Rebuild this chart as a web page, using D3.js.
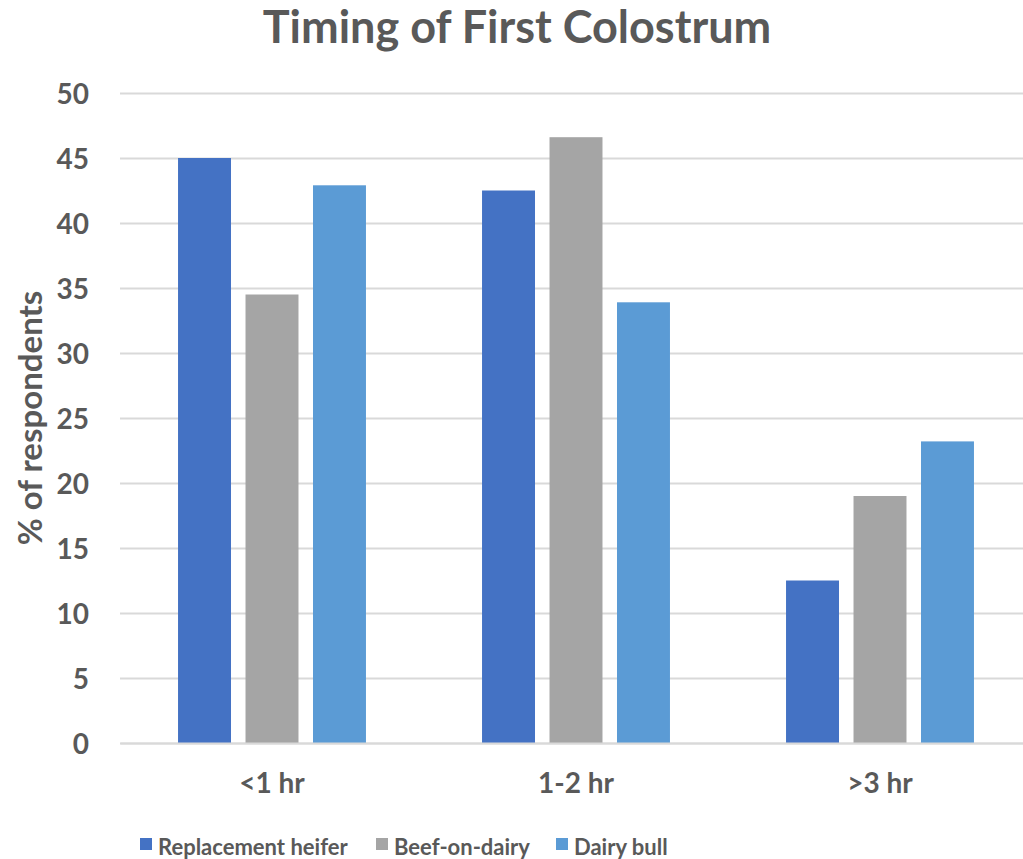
<!DOCTYPE html>
<html>
<head>
<meta charset="utf-8">
<script src="https://cdn.jsdelivr.net/npm/d3@7"></script>
<style>
  body { margin: 0; background: #fff; }
  text { font-family: Lato, "Open Sans", sans-serif; font-weight: bold; fill: #595959; }
</style>
</head>
<body>
<div id="chart"></div>
<script>
// chart data
var categories = ["<1 hr", "1-2 hr", ">3 hr"];
var seriesNames = ["Replacement heifer", "Beef-on-dairy", "Dairy bull"];
var heiferValues = [45.0, 42.5, 12.5];
var beefValues = [34.5, 46.6, 19.0];
var bullValues = [42.9, 33.9, 23.2];
var yTicks = [0, 5, 10, 15, 20, 25, 30, 35, 40, 45, 50];
var colors = ["#4472C4", "#A5A5A5", "#5B9BD5"];

var allValues = [heiferValues, beefValues, bullValues];

// set the dimensions and margins of the graph
var margin = {top: 93, right: -9, bottom: 116, left: 120},
    width = 1023 - margin.left - margin.right,
    height = 859 - margin.top - margin.bottom;

var svg = d3.select("#chart")
  .append("svg")
    .attr("width", 1023)
    .attr("height", 859);

var g = svg.append("g")
    .attr("transform", "translate(" + margin.left + "," + margin.top + ")");

var x0 = d3.scaleBand().domain(categories).range([0, width]).padding(0);
var x1 = d3.scaleBand().domain(seriesNames).range([0, x0.bandwidth()])
    .paddingInner(0.215).paddingOuter(0.86);
var y = d3.scaleLinear().domain([0, 50]).range([height, 0]);

// gridlines
g.append("g")
    .attr("class", "grid")
    .call(d3.axisLeft(y).tickValues(yTicks).tickSize(-width).tickFormat(""))
    .call(function(s) {
      s.select(".domain").remove();
      s.selectAll("line").attr("stroke", "#D9D9D9").attr("stroke-width", 2);
    });

// y axis labels
g.append("g")
    .call(d3.axisLeft(y).tickValues(yTicks).tickSize(0).tickPadding(31))
    .call(function(s) {
      s.select(".domain").remove();
      s.selectAll("text").style("font-size", "28px").attr("dy", "0.36em");
    });

// bars
var groups = g.selectAll(".group")
    .data(categories)
  .enter().append("g")
    .attr("class", "group")
    .attr("transform", function(d) { return "translate(" + x0(d) + ",0)"; });

groups.selectAll("rect")
    .data(function(d, i) {
      return seriesNames.map(function(name, j) { return {name: name, value: allValues[j][i], idx: j}; });
    })
  .enter().append("rect")
    .attr("x", function(d) { return x1(d.name); })
    .attr("width", x1.bandwidth())
    .attr("y", function(d) { return y(d.value); })
    .attr("height", function(d) { return height - y(d.value); })
    .attr("fill", function(d) { return colors[d.idx]; });

// x axis
g.append("g")
    .attr("transform", "translate(0," + height + ")")
    .call(d3.axisBottom(x0).tickSize(0))
    .call(function(s) {
      s.select(".domain").attr("stroke", "#D9D9D9").attr("stroke-width", 2);
      s.selectAll("text").style("font-size", "28px").attr("y", 50).attr("dy", 0);
    });

// title
svg.append("text")
    .attr("x", 517)
    .attr("y", 43)
    .attr("text-anchor", "middle")
    .style("font-size", "45px")
    .text("Timing of First Colostrum");

// y axis title
svg.append("text")
    .attr("transform", "translate(42,418) rotate(-90)")
    .attr("text-anchor", "middle")
    .style("font-size", "33px")
    .text("% of respondents");

// legend
var legendX = [140, 376, 556];
var legend = svg.selectAll(".legend")
    .data(seriesNames)
  .enter().append("g")
    .attr("class", "legend")
    .attr("transform", function(d, i) { return "translate(" + legendX[i] + ",838)"; });

legend.append("rect")
    .attr("width", 12)
    .attr("height", 12)
    .attr("fill", function(d, i) { return colors[i]; });

legend.append("text")
    .attr("x", 18)
    .attr("y", 17)
    .style("font-size", "22px")
    .text(function(d) { return d; });
</script>
</body>
</html>
